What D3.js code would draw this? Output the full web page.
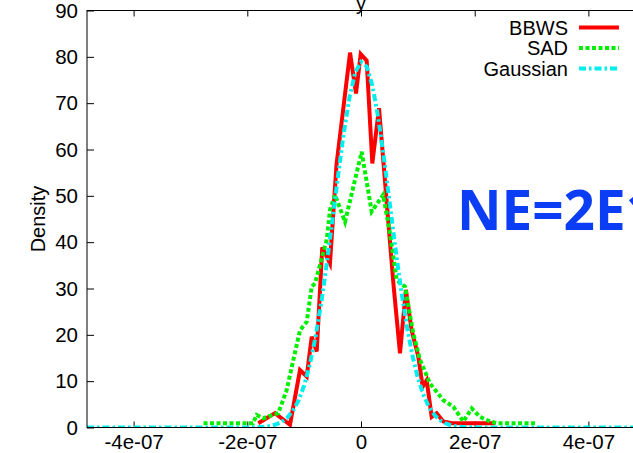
<!DOCTYPE html>
<html>
<head>
<meta charset="utf-8">
<script src="https://cdn.jsdelivr.net/npm/d3@7"></script>
<style>
  html, body { margin: 0; padding: 0; background: #fff; overflow: hidden; }
  svg { display: block; }
  .axis text { font-family: "Liberation Sans", Arial, sans-serif; font-size: 20.5px; fill: #000; }
  .axis path { display: none; }
  .axis line { stroke: #000; stroke-width: 1; }
  .lbl { font-family: "Liberation Sans", Arial, sans-serif; font-size: 20px; fill: #000; }
</style>
</head>
<body>
<svg id="chart" width="633" height="453"></svg>
<script>
// Density of y for each method (x in units of 1e-7)
const bbwsX = [-1.807, -1.513, -1.249, -1.073, -0.955, -0.867, -0.779, -0.681, -0.546, -0.431,
  -0.193, -0.088, -0.005, 0.10, 0.199, 0.317, 0.572, 0.686, 0.79, 0.89, 1.008, 1.085, 1.155,
  1.243, 1.33, 1.448, 1.60, 2.36];
const bbwsY = [0.9, 3.1, 0.6, 12.4, 11.0, 19.6, 16.4, 38.9, 35.4, 56.7,
  80.9, 72.1, 80.6, 79.2, 57.0, 68.9, 30.8, 16.0, 29.7, 21.0, 15.3, 8.8, 10.2,
  2.3, 3.1, 1.3, 0.9, 0.9];

const sadX = [-2.77, -1.90, -1.835, -1.718, -1.455, -1.307, -1.19, -1.073, -0.955, -0.867, -0.809,
  -0.603, -0.545, -0.457, -0.281, 0.012, 0.188, 0.39, 0.51, 0.628, 0.774, 0.92, 1.038,
  1.214, 1.448, 1.624, 1.80, 1.947, 2.093, 2.27, 2.40, 3.06];
const sadY = [0.9, 0.9, 2.7, 2.0, 3.1, 8.1, 14.6, 21.0, 22.8, 30.4, 31.1,
  40.5, 47.0, 50.2, 44.4, 59.5, 46.6, 50.2, 41.9, 31.8, 30.4, 20.3, 14.6,
  9.5, 5.9, 4.5, 1.3, 4.1, 2.3, 1.3, 0.9, 0.9];

const gaussX = [-4.82, -2.2, -2.0, -1.8, -1.7, -1.6, -1.5, -1.4, -1.3, -1.2, -1.1, -1.0, -0.9, -0.8,
  -0.7, -0.6, -0.5, -0.4, -0.3, -0.2, -0.1, 0.0, 0.1, 0.2, 0.3, 0.4, 0.5, 0.6, 0.7, 0.8,
  0.9, 1.0, 1.1, 1.2, 1.3, 1.4, 1.5, 1.6, 1.7, 1.8, 2.0, 2.2, 4.82];
const gaussY = [0, 0, 0.02, 0.07, 0.15, 0.32, 0.64, 1.18, 2.1, 3.56, 5.8, 9.1, 13.6, 19.5,
  26.9, 35.5, 45.0, 54.7, 63.8, 71.4, 76.7, 78.9, 77.9, 73.8, 67.1, 58.5, 48.9, 39.2, 30.2, 22.3,
  15.8, 10.7, 7.0, 4.3, 2.6, 1.5, 0.83, 0.43, 0.21, 0.1, 0.02, 0, 0];

const xTickValues = [-4e-7, -2e-7, 0, 2e-7, 4e-7];
const xTickLabels = ["-4e-07", "-2e-07", "0", "2e-07", "4e-07"];
const yTickValues = [0, 10, 20, 30, 40, 50, 60, 70, 80, 90];

const seriesNames = ["BBWS", "SAD", "Gaussian"];
const seriesColors = ["#ff0000", "#00ee00", "#00eeee"];

const svg = d3.select("#chart");
const plotLeft = 87, plotTop = 10.5, plotBottom = 427.5, plotRight = 635;

const x = d3.scaleLinear().domain([-4.82e-7, 4.82e-7]).range([plotLeft, plotRight]);
const y = d3.scaleLinear().domain([0, 90]).range([plotBottom, plotTop]);

svg.append("defs").append("clipPath").attr("id", "plot-clip")
  .append("rect").attr("x", plotLeft).attr("y", plotTop)
  .attr("width", plotRight - plotLeft).attr("height", plotBottom - plotTop);

// axes: ticks point inward, gnuplot style
const fmtX = v => xTickLabels[xTickValues.indexOf(v)];
svg.append("g").attr("class", "axis").attr("transform", `translate(0,${plotBottom})`)
  .call(d3.axisBottom(x).tickValues(xTickValues).tickFormat(fmtX).tickSizeInner(-6).tickSizeOuter(0).tickPadding(7));
svg.append("g").attr("class", "axis").attr("transform", `translate(0,${plotTop})`)
  .call(d3.axisTop(x).tickValues(xTickValues).tickFormat("").tickSizeInner(-6).tickSizeOuter(0));
svg.append("g").attr("class", "axis").attr("transform", `translate(${plotLeft},0)`)
  .call(d3.axisLeft(y).tickValues(yTickValues).tickFormat(d3.format("d")).tickSizeInner(-7).tickSizeOuter(0).tickPadding(9));

// curves
const toPts = (xs, ys) => xs.map((v, i) => [v * 1e-7, ys[i]]);
const line = d3.line().x(d => x(d[0])).y(d => y(d[1]));
const plot = svg.append("g").attr("clip-path", "url(#plot-clip)");

const styles = [
  { dash: null },
  { dash: "4,2.5" },
  { dash: "7,3,2.5,3" }
];
const data = [toPts(bbwsX, bbwsY), toPts(sadX, sadY), toPts(gaussX, gaussY)];
data.forEach((pts, i) => {
  plot.append("path").datum(pts)
    .attr("d", line)
    .attr("fill", "none")
    .attr("stroke", seriesColors[i])
    .attr("stroke-width", 4)
    .attr("stroke-dasharray", styles[i].dash);
});

// border
svg.append("rect").attr("x", plotLeft).attr("y", plotTop)
  .attr("width", plotRight - plotLeft).attr("height", plotBottom - plotTop)
  .attr("fill", "none").attr("stroke", "#000").attr("stroke-width", 1);

// legend
const legend = svg.append("g");
seriesNames.forEach((name, i) => {
  const ly = 27.5 + i * 20.5;
  legend.append("text").attr("class", "lbl").attr("x", 568).attr("y", ly + 7)
    .attr("text-anchor", "end")
    .text(name);
  legend.append("line").attr("x1", 579).attr("x2", 619).attr("y1", ly).attr("y2", ly)
    .attr("stroke", seriesColors[i]).attr("stroke-width", 4)
    .attr("stroke-dasharray", styles[i].dash);
});

// title and axis label
svg.append("text").attr("class", "lbl").attr("x", 361).attr("y", 9.5).attr("text-anchor", "middle").text("y");
svg.append("text").attr("class", "lbl").attr("transform", "translate(45,219) rotate(-90)")
  .attr("text-anchor", "middle").text("Density");

// annotation
svg.append("text").attr("x", 457).attr("y", 230)
  .attr("textLength", 200).attr("lengthAdjust", "spacingAndGlyphs")
  .style("font-family", '"Open Sans", "Noto Sans", sans-serif').style("font-weight", "bold")
  .style("font-size", "55px").style("fill", "#0b3df5")
  .text("NE=2E1");
</script>
</body>
</html>
